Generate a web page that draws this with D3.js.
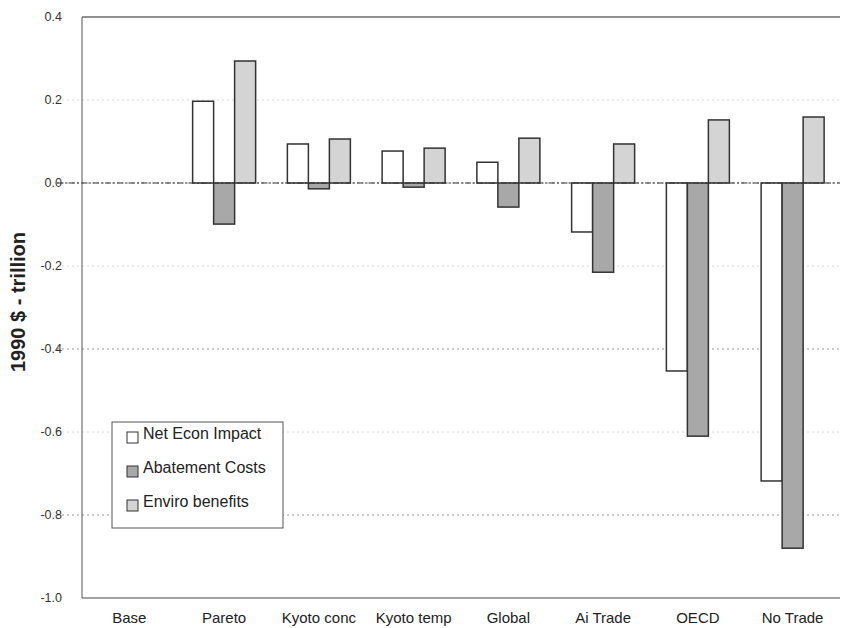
<!DOCTYPE html>
<html><head><meta charset="utf-8">
<script src="https://cdn.jsdelivr.net/npm/d3@7"></script>
<style>body{margin:0;background:#fff}svg{display:block}text{font-family:Arial,"Liberation Sans",sans-serif}</style>
</head><body>
<svg id="c" width="841" height="628"></svg>
<script>
const categories = ["Base","Pareto","Kyoto conc","Kyoto temp","Global","Ai Trade","OECD","No Trade"];
const seriesNames = ["Net Econ Impact","Abatement Costs","Enviro benefits"];
const netEcon = [0, 0.197, 0.094, 0.077, 0.050, -0.118, -0.453, -0.718];
const abatement = [0, -0.099, -0.014, -0.010, -0.058, -0.215, -0.610, -0.880];
const enviro = [0, 0.294, 0.106, 0.084, 0.108, 0.094, 0.152, 0.159];
const yTicks = [0.4, 0.2, 0.0, -0.2, -0.4, -0.6, -0.8, -1.0];
const colors = ["#ffffff", "#a8a8a8", "#d4d4d4"];

const series = [netEcon, abatement, enviro];
const svg = d3.select("#c");
const L = 82, R = 840, T = 17, B = 598;
const x = d3.scaleBand().domain(categories).range([L, R]).paddingInner(0).paddingOuter(0);
const y = d3.scaleLinear().domain([-1.0, 0.4]).range([B, T]);
const groupW = 63;
const xs = d3.scaleBand().domain(d3.range(3)).range([0, groupW]);

// gridlines
svg.append("g").selectAll("line").data(yTicks.filter(d => d !== 0.4 && d !== -1.0)).join("line")
  .attr("x1", L - 25).attr("x2", R)
  .attr("y1", d => y(d)).attr("y2", d => y(d))
  .attr("stroke", d => (Math.round(d*10) % 4 === 0) ? "#999" : "#d8d8d8")
  .attr("stroke-width", 1)
  .attr("stroke-dasharray", "2,3");

// bars
categories.forEach((c, i) => {
  const gx = x(c) + (x.bandwidth() - groupW) / 2;
  series.forEach((s, k) => {
    const v = s[i];
    if (v === 0) return;
    svg.append("rect")
      .attr("x", gx + xs(k)).attr("width", xs.bandwidth())
      .attr("y", y(Math.max(0, v))).attr("height", Math.abs(y(v) - y(0)))
      .attr("fill", colors[k]).attr("stroke", "#333").attr("stroke-width", 1.5);
  });
});

// zero line
svg.append("line").attr("x1", L - 25).attr("x2", R).attr("y1", y(0)).attr("y2", y(0))
  .attr("stroke", "#333").attr("stroke-width", 1.2).attr("stroke-dasharray", "6,2,2,2");

// frame: top, left, bottom
svg.append("line").attr("x1", L).attr("x2", R).attr("y1", y(0.4)).attr("y2", y(0.4)).attr("stroke", "#222").attr("stroke-width", 1.2);
svg.append("line").attr("x1", L).attr("x2", R).attr("y1", y(-1.0)).attr("y2", y(-1.0)).attr("stroke", "#444").attr("stroke-width", 1.2);
svg.append("line").attr("x1", L).attr("x2", L).attr("y1", y(0.4)).attr("y2", y(-1.0)).attr("stroke", "#555").attr("stroke-width", 1);

// y tick labels
svg.append("g").selectAll("text").data(yTicks).join("text")
  .attr("x", 62).attr("y", d => y(d)).attr("dy", "0.35em")
  .attr("text-anchor", "end").attr("font-size", 12.5).attr("fill", "#333")
  .text(d => d3.format(".1f")(d).replace("−", "-"));

// x labels
svg.append("g").selectAll("text").data(categories).join("text")
  .attr("x", d => x(d) + x.bandwidth() / 2).attr("y", 623)
  .attr("text-anchor", "middle").attr("font-size", 15).attr("fill", "#222")
  .text(d => d);

// y title
svg.append("text").attr("transform", "translate(25,302) rotate(-90)")
  .attr("text-anchor", "middle").attr("font-size", 20).attr("font-weight", "bold").attr("fill", "#222")
  .text("1990 $ - trillion");

// legend
const lg = svg.append("g").attr("transform", "translate(112,422)");
lg.append("rect").attr("width", 171).attr("height", 106).attr("fill", "#fff").attr("stroke", "#555").attr("stroke-width", 1);
seriesNames.forEach((n, k) => {
  const g = lg.append("g").attr("transform", `translate(15,${17 + k * 34})`);
  g.append("rect").attr("x", 0).attr("y", -7).attr("width", 11).attr("height", 11)
    .attr("fill", colors[k]).attr("stroke", "#333").attr("stroke-width", 1);
  g.append("text").attr("x", 16).attr("y", 0).attr("font-size", 16).attr("fill", "#222").text(n);
});
</script>
</body></html>
